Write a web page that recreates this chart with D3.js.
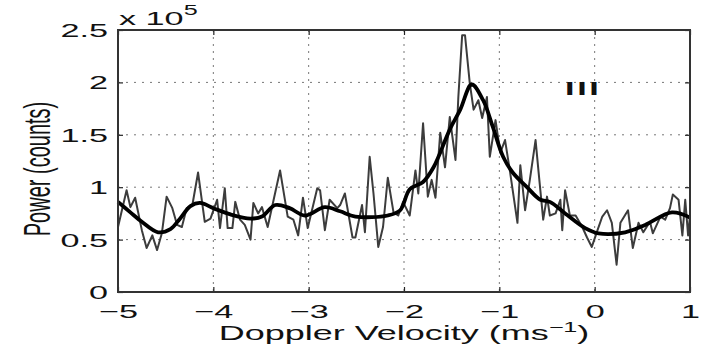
<!DOCTYPE html>
<html>
<head>
<meta charset="utf-8">
<script src="https://cdn.jsdelivr.net/npm/d3@7"></script>
<style>
  body { margin: 0; background: #fff; }
  svg { display: block; }
  text { font-family: 'Liberation Sans', Arial, sans-serif; fill: #111; }
</style>
</head>
<body>
<div id="vis"></div>
<script>
'use strict'

// raw spectrum (velocity in m/s, power in units of 1e5 counts)
const rawVelocity = [
  -5.00, -4.91, -4.87, -4.82, -4.75, -4.70, -4.64, -4.59, -4.54, -4.49,
  -4.43, -4.38, -4.33, -4.28, -4.22, -4.16, -4.09, -4.03, -3.96, -3.93,
  -3.88, -3.85, -3.80, -3.77, -3.72, -3.67, -3.61, -3.58, -3.53, -3.49,
  -3.43, -3.30, -3.22, -3.16, -3.11, -3.06, -3.01, -2.91, -2.88, -2.83,
  -2.78, -2.70, -2.67, -2.62, -2.54, -2.51, -2.44, -2.41, -2.36, -2.32,
  -2.27, -2.22, -2.17, -2.11, -2.06, -2.01, -1.94, -1.88, -1.85, -1.80,
  -1.75, -1.71, -1.67, -1.62, -1.57, -1.52, -1.46, -1.43, -1.39, -1.36,
  -1.31, -1.27, -1.22, -1.18, -1.13, -1.10, -1.04, -0.99, -0.94, -0.89,
  -0.81, -0.78, -0.73, -0.68, -0.62, -0.59, -0.54, -0.50, -0.47, -0.41,
  -0.36, -0.34, -0.31, -0.26, -0.20, -0.13, -0.08, -0.03, 0.03, 0.08,
  0.13, 0.18, 0.23, 0.27, 0.35, 0.40, 0.46, 0.51, 0.58, 0.61,
  0.69, 0.74, 0.79, 0.82, 0.88, 0.92, 0.95, 0.98, 1.00
]
const rawPower = [
  0.62, 0.97, 0.81, 0.90, 0.59, 0.42, 0.54, 0.40, 0.56, 0.91,
  0.80, 0.64, 0.62, 0.80, 0.83, 1.14, 0.67, 0.70, 0.88, 0.61,
  0.99, 0.61, 0.61, 0.86, 0.69, 0.64, 0.50, 0.85, 0.75, 0.81,
  0.62, 1.16, 0.72, 0.69, 0.54, 0.90, 0.61, 0.99, 0.97, 0.59,
  0.88, 0.80, 0.83, 0.94, 0.52, 0.52, 0.83, 0.57, 1.29, 0.94,
  0.43, 0.62, 1.09, 0.76, 0.73, 0.86, 0.73, 1.16, 0.94, 1.61,
  0.91, 1.07, 0.90, 1.52, 1.19, 1.67, 1.26, 1.86, 2.45, 2.45,
  1.99, 1.74, 1.83, 1.66, 1.86, 1.29, 1.64, 1.33, 1.45, 1.16,
  0.66, 1.21, 0.78, 1.07, 1.45, 1.16, 0.69, 0.91, 0.73, 0.75,
  0.88, 0.59, 0.97, 0.73, 0.73, 0.62, 0.52, 0.43, 0.59, 0.72,
  0.78, 0.66, 0.26, 0.66, 0.78, 0.42, 0.66, 0.57, 0.67, 0.56,
  0.72, 0.69, 0.80, 0.93, 0.88, 0.54, 0.88, 0.54, 0.73
]

// smoothed spectrum
const fitVelocity = [
  -5.00, -4.87, -4.75, -4.58, -4.45, -4.35, -4.24, -4.14, -4.00, -3.82,
  -3.61, -3.49, -3.35, -3.20, -3.04, -2.83, -2.67, -2.51, -2.17, -2.04,
  -1.94, -1.80, -1.69, -1.52, -1.41, -1.29, -1.17, -1.07, -0.96, -0.86,
  -0.71, -0.57, -0.47, -0.31, -0.10, 0.04, 0.32, 0.53, 0.81, 1.00
]
const fitPower = [
  0.86, 0.76, 0.67, 0.57, 0.60, 0.70, 0.82, 0.85, 0.80, 0.74,
  0.70, 0.72, 0.83, 0.80, 0.73, 0.81, 0.77, 0.72, 0.73, 0.78,
  0.98, 1.05, 1.19, 1.55, 1.74, 1.98, 1.83, 1.58, 1.29, 1.14,
  1.00, 0.88, 0.86, 0.75, 0.61, 0.56, 0.57, 0.64, 0.76, 0.71
]

const xTicks = [-5, -4, -3, -2, -1, 0, 1]
const xTickLabels = ['\u22125', '\u22124', '\u22123', '\u22122', '\u22121', '0', '1']
const yTicks = [0, 0.5, 1, 1.5, 2, 2.5]
const yTickLabels = ['0', '0.5', '1', '1.5', '2', '2.5']
const xGrid = [-4, -3, -2, -1, 0]
const yGrid = [0.5, 1, 1.5, 2]

//
// CHART CONFIG
//

const totalWidth = 706
const totalHeight = 348
const margin = { top: 30, right: 16, bottom: 56, left: 118 }
const width = totalWidth - margin.left - margin.right
const height = totalHeight - margin.top - margin.bottom
const stretch = 1.8   // the original figure is stretched horizontally
const fontSize = 19

const x = d3.scaleLinear().domain([-5, 1]).range([0, width])
const y = d3.scaleLinear().domain([0, 2.5]).range([height, 0])

const svg = d3.select('div#vis')
  .append('svg')
    .attr('width', totalWidth)
    .attr('height', totalHeight)

const inner = svg.append('g')
  .attr('transform', 'translate(' + margin.left + ',' + margin.top + ')')

//
// GRID
//

inner.append('g')
  .selectAll('line')
  .data(xGrid)
  .join('line')
    .attr('x1', d => x(d)).attr('x2', d => x(d))
    .attr('y1', 0).attr('y2', height)
    .attr('stroke', '#777')
    .attr('stroke-dasharray', '2,5')

inner.append('g')
  .selectAll('line')
  .data(yGrid)
  .join('line')
    .attr('x1', 0).attr('x2', width)
    .attr('y1', d => y(d)).attr('y2', d => y(d))
    .attr('stroke', '#777')
    .attr('stroke-dasharray', '2,6')

//
// DATA
//

const rawData = rawVelocity.map((v, i) => ({ v: v, p: rawPower[i] }))
const fitData = fitVelocity.map((v, i) => ({ v: v, p: fitPower[i] }))

inner.append('path')
  .datum(rawData)
  .attr('fill', 'none')
  .attr('stroke', '#3c3c3c')
  .attr('stroke-width', 2)
  .attr('stroke-linejoin', 'round')
  .attr('d', d3.line().x(d => x(d.v)).y(d => y(d.p)))

inner.append('path')
  .datum(fitData)
  .attr('fill', 'none')
  .attr('stroke', '#000')
  .attr('stroke-width', 3.8)
  .attr('stroke-linejoin', 'round')
  .attr('d', d3.line().curve(d3.curveCatmullRom).x(d => x(d.v)).y(d => y(d.p)))

//
// AXES (inward ticks on all sides)
//

function styleTicks(g) {
  g.select('.domain').remove()
  g.selectAll('.tick line').attr('stroke', '#222').attr('stroke-width', 1.2)
}

inner.append('g')
  .attr('transform', 'translate(0,' + height + ')')
  .call(d3.axisBottom(x).tickValues(xTicks).tickSizeInner(-5).tickSizeOuter(0)
    .tickFormat((d, i) => xTickLabels[i]))
  .call(styleTicks)
  .call(g => g.selectAll('.tick text')
    .attr('y', 26)
    .attr('dy', 0)
    .attr('transform', 'scale(' + stretch + ',1)')
    .style('font-size', fontSize + 'px'))

inner.append('g')
  .call(d3.axisTop(x).tickValues(xTicks).tickSizeInner(-5).tickSizeOuter(0).tickFormat(''))
  .call(styleTicks)

inner.append('g')
  .call(d3.axisLeft(y).tickValues(yTicks).tickSizeInner(-5).tickSizeOuter(0)
    .tickFormat((d, i) => yTickLabels[i]))
  .call(styleTicks)
  .call(g => g.selectAll('.tick text')
    .attr('x', -10 / stretch)
    .attr('dy', '0.34em')
    .attr('transform', 'scale(' + stretch + ',1)')
    .style('font-size', fontSize + 'px'))

inner.append('g')
  .attr('transform', 'translate(' + width + ',0)')
  .call(d3.axisRight(y).tickValues(yTicks).tickSizeInner(-5).tickSizeOuter(0).tickFormat(''))
  .call(styleTicks)

inner.append('rect')
  .attr('width', width)
  .attr('height', height)
  .attr('fill', 'none')
  .attr('stroke', '#333')
  .attr('stroke-width', 2)

//
// LABELS
//

// exponent label
const expo = svg.append('text')
  .attr('transform', 'translate(' + (margin.left + 1) + ',25) scale(' + stretch + ',1)')
  .style('font-size', '19px')
expo.append('tspan').text('x 10')
expo.append('tspan').attr('dy', -10).style('font-size', '14px').text('5')

// panel label
svg.append('text')
  .attr('transform', 'translate(' + (margin.left + x(-0.12)) + ',' + (margin.top + y(1.88)) + ') scale(' + stretch + ',1)')
  .attr('text-anchor', 'middle')
  .style('font-size', '19px')
  .style('font-weight', 'bold')
  .style('letter-spacing', '1.5px')
  .text('III')

// x axis label
const xLabel = svg.append('text')
  .attr('transform', 'translate(' + (margin.left + width / 2) + ',340) scale(' + stretch + ',1)')
  .attr('text-anchor', 'middle')
  .style('font-size', '20px')
xLabel.append('tspan').text('Doppler Velocity (ms')
xLabel.append('tspan').attr('dy', -8).style('font-size', '14px').text('\u22121')
xLabel.append('tspan').attr('dy', 8).text(')')

// y axis label
svg.append('text')
  .attr('transform', 'translate(50,' + (margin.top + height / 2 + 8) + ') scale(' + stretch + ',1) rotate(-90)')
  .attr('text-anchor', 'middle')
  .style('font-size', '20px')
  .text('Power (counts)')
</script>
</body>
</html>
